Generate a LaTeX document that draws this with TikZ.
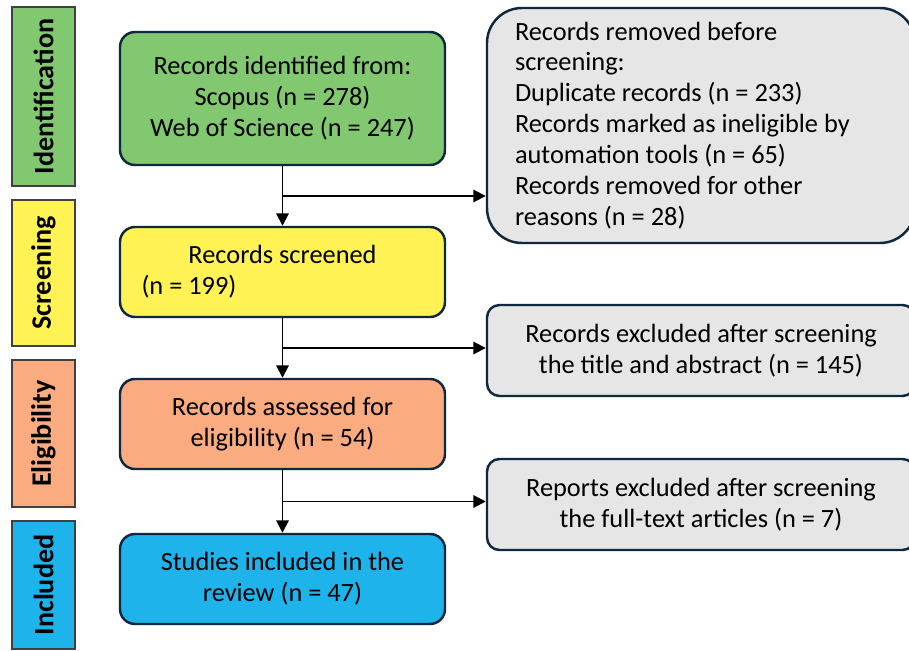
\documentclass[tikz,border=0pt]{standalone}
\usepackage{fontspec}
\setmainfont{Carlito}
\usepackage{xcolor}
\usetikzlibrary{calc, arrows.meta}

\definecolor{idgreen}{RGB}{130,200,112}
\definecolor{scryellow}{RGB}{255,242,84}
\definecolor{eligorange}{RGB}{250,171,128}
\definecolor{inclblue}{RGB}{30,180,235}
\definecolor{remgray}{RGB}{230,230,230}
\definecolor{edgenavy}{RGB}{16,40,62}

\begin{document}
\begin{tikzpicture}
              [font=\fontsize{15}{17.6}\selectfont,
               stage/.style={draw=black!75, line width=.9pt, rotate=90, minimum height=1.26cm, inner sep=0pt, font=\fontsize{16}{18}\selectfont\bfseries},
               mainbox/.style={draw=edgenavy, line width=1.4pt, rounded corners=.3cm, minimum width=6.5cm, minimum height=1.8cm, align=center},
               sidebox/.style={draw=edgenavy, line width=1.4pt, fill=remgray, rounded corners=.25cm, minimum width=8.56cm, minimum height=1.82cm, align=center},
               arrow/.style={-{Triangle[length=7pt, width=7pt]}, line width=1.1pt}]
              \useasboundingbox (0,0) rectangle (18.18,-13.02);

              % nodes %
              \node[stage, fill=idgreen, minimum width=3.58cm] (idlab) at (0.87,-1.93) {Identification};
              \node[stage, fill=scryellow, minimum width=2.92cm] (scrlab) at (0.87,-5.46) {Screening};
              \node[stage, fill=eligorange, minimum width=2.94cm] (eliglab) at (0.87,-8.67) {Eligibility};
              \node[stage, fill=inclblue, minimum width=2.56cm] (incllab) at (0.87,-11.7) {Included};

              \node[mainbox, fill=idgreen, minimum height=2.66cm] (idbox) at (5.65,-1.97)
                {Records identified from:\\Scopus (n = 278)\\Web of Science (n = 247)};
              \node[mainbox, fill=scryellow, text width=5.64cm, align=flush left] (scrbox) at (5.65,-5.44)
                {\makebox[5.64cm]{Records screened}\\(n = 199)};
              \node[mainbox, fill=eligorange] (eligbox) at (5.65,-8.48)
                {Records assessed for\\eligibility (n = 54)};
              \node[mainbox, fill=inclblue] (inclbox) at (5.65,-11.58)
                {Studies included in the\\review (n = 47)};

              \node[sidebox, rounded corners=.7cm, minimum height=4.7cm, text width=7.44cm, inner xsep=.56cm, align=flush left] (rembox) at (14.02,-2.51)
                {Records removed before\\screening:\\Duplicate records (n = 233)\\Records marked as ineligible by\\automation tools (n = 65)\\Records removed for other\\reasons (n = 28)};
              \node[sidebox] (excbox) at (14.02,-7.01)
                {Records excluded after screening\\the title and abstract (n = 145)};
              \node[sidebox] (repbox) at (14.02,-10.09)
                {Reports excluded after screening\\the full-text articles (n = 7)};

              % edges %
              \coordinate (b1) at ($(idbox.south)!.5!(scrbox.north)$);
              \coordinate (b2) at ($(scrbox.south)!.5!(eligbox.north)$);
              \coordinate (b3) at ($(eligbox.south)!.5!(inclbox.north)$);
              \draw[arrow] (idbox) -- (scrbox);
              \draw[arrow] (scrbox) -- (eligbox);
              \draw[arrow] (eligbox) -- (inclbox);
              \draw[arrow] (b1) -- (b1 -| rembox.west);
              \draw[arrow] (b2) -- (b2 -| excbox.west);
              \draw[arrow] (b3) -- (b3 -| repbox.west);
            \end{tikzpicture}
\end{document}
